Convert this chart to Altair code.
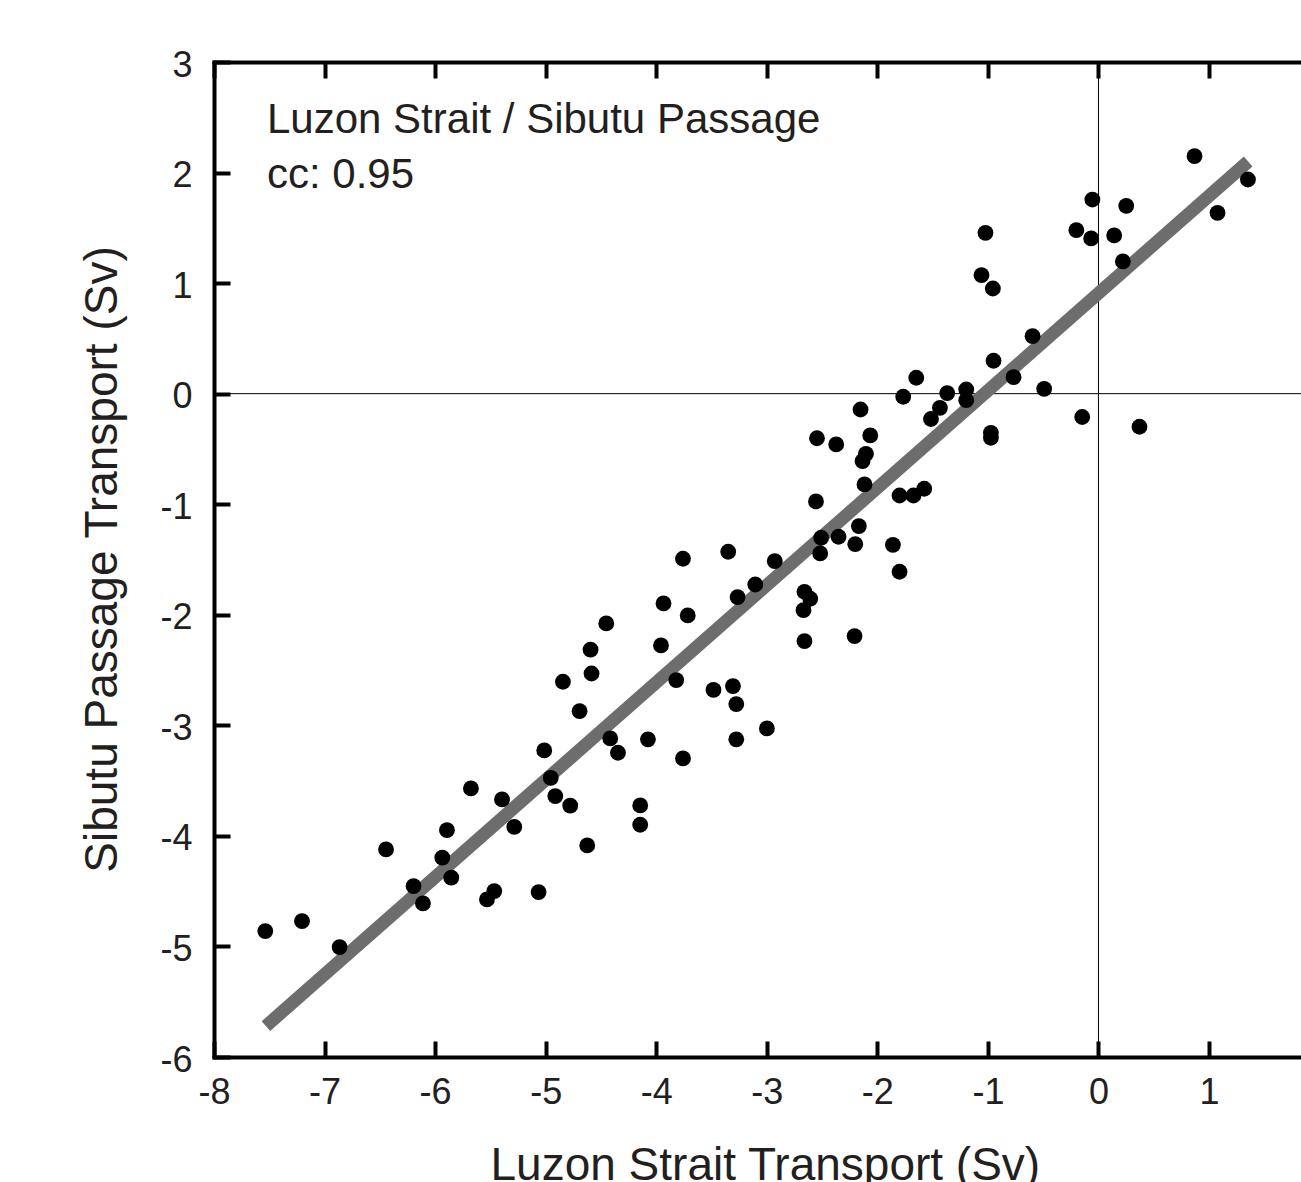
import altair as alt
import pandas as pd

# ---- data ----
luzon = [
    -7.536, -7.204, -6.864, -6.444, -6.195, -6.110, -5.893, -5.935, -5.854, -5.676,
    -5.531, -5.465, -5.395, -5.284, -5.064, -5.013, -4.954, -4.913, -4.844, -4.778,
    -4.693, -4.624, -4.585, -4.594, -4.452, -4.416, -4.346, -4.145, -4.145, -4.075,
    -3.957, -3.934, -3.819, -3.758, -3.758, -3.715, -3.482, -3.349, -3.306, -3.276,
    -3.276, -3.264, -3.104, -2.999, -2.928, -2.659, -2.659, -2.668, -2.607, -2.555,
    -2.546, -2.517, -2.508, -2.372, -2.351, -2.200, -2.206, -2.167, -2.152, -2.134,
    -2.103, -2.116, -2.064, -1.799, -1.799, -1.859, -1.766, -1.673, -1.648, -1.576,
    -1.515, -1.434, -1.368, -1.196, -1.196, -1.058, -1.022, -0.955, -0.973, -0.973,
    -0.949, -0.768, -0.596, -0.491, -0.200, -0.147, -0.066, -0.055, 0.142, 0.221,
    0.251, 0.371, 0.869, 1.077, 1.352,
]
sibutu = [
    -4.861, -4.771, -5.006, -4.122, -4.454, -4.611, -3.948, -4.197, -4.378, -3.571,
    -4.575, -4.499, -3.670, -3.919, -4.508, -3.227, -3.476, -3.640, -2.606, -3.727,
    -2.872, -4.086, -2.531, -2.316, -2.078, -3.118, -3.248, -3.724, -3.899, -3.127,
    -2.277, -1.897, -2.591, -3.299, -1.493, -2.006, -2.680, -1.430, -2.645, -2.808,
    -3.127, -1.840, -1.726, -3.028, -1.515, -2.238, -1.792, -1.958, -1.855, -0.975,
    -0.403, -1.445, -1.303, -0.459, -1.294, -1.361, -2.193, -1.198, -0.143, -0.610,
    -0.545, -0.821, -0.378, -1.611, -0.921, -1.367, -0.028, -0.921, 0.144, -0.860,
    -0.229, -0.128, 0.005, 0.038, -0.059, 1.072, 1.455, 0.951, -0.354, -0.399,
    0.298, 0.149, 0.520, 0.044, 1.479, -0.211, 1.404, 1.756, 1.431, 1.196,
    1.699, -0.299, 2.148, 1.636, 1.937,
]
fit_x = [-7.53, 1.354]
fit_y = [-5.72, 2.10]
zero_line = [0]
x_ticks = [-8, -7, -6, -5, -4, -3, -2, -1, 0, 1]
y_ticks = [-6, -5, -4, -3, -2, -1, 0, 1, 2, 3]
annotation = ["Luzon Strait / Sibutu Passage", "cc: 0.95"]
x_title = "Luzon Strait Transport (Sv)"
y_title = "Sibutu Passage Transport (Sv)"

pts = pd.DataFrame({"luzon": luzon, "sibutu": sibutu})
fit = pd.DataFrame({"luzon": fit_x, "sibutu": fit_y})
zeros = pd.DataFrame({"v": zero_line})
note = pd.DataFrame({"k": [0]})

FONT = "Liberation Sans"
INK = "#231f20"
W, H = 1087, 995
HYPHEN_LABEL = "'' + datum.value"

x_scale = alt.Scale(domain=[-8, 1.832], nice=False, zero=False)
y_scale = alt.Scale(domain=[-6, 3], nice=False, zero=False)
inward = alt.ExprRef(expr="-16")

x_main = alt.Axis(
    orient="bottom", values=x_ticks, grid=False,
    domain=True, domainColor="black", domainWidth=4, domainCap="square",
    ticks=True, tickSize=inward, tickWidth=4, tickColor="black",
    labels=True, labelFont=FONT, labelFontSize=36, labelColor=INK,
    labelPadding=34, labelFlush=False, labelOverlap=False, labelExpr=HYPHEN_LABEL,
    title=x_title, titleFont=FONT, titleFontSize=46, titleFontWeight="normal",
    titleColor=INK, titleAlign="left", titleBaseline="alphabetic",
    titleX=276, titleY=122,
)
x_top = alt.Axis(
    orient="top", values=x_ticks, grid=False,
    domain=True, domainColor="black", domainWidth=4, domainCap="square",
    ticks=True, tickSize=inward, tickWidth=4, tickColor="black",
    labels=False, title="",
)
y_main = alt.Axis(
    orient="left", values=y_ticks, grid=False,
    domain=True, domainColor="black", domainWidth=4, domainCap="square",
    ticks=True, tickSize=inward, tickWidth=4, tickColor="black",
    labels=True, labelFont=FONT, labelFontSize=36, labelColor=INK,
    labelPadding=38, labelOffset=3, labelFlush=False, labelOverlap=False,
    labelExpr=HYPHEN_LABEL,
    title=y_title, titleFont=FONT, titleFontSize=46, titleFontWeight="normal",
    titleColor=INK, titleAngle=270, titleAlign="center", titleBaseline="alphabetic",
    titleX=-98, titleY=497,
)

vline = alt.Chart(zeros).mark_rule(color="black", strokeWidth=1).encode(
    x=alt.X("v:Q", scale=x_scale, axis=None)
)
hline = alt.Chart(zeros).mark_rule(color="black", strokeWidth=1).encode(
    y=alt.Y("v:Q", scale=y_scale, axis=None)
)
line = alt.Chart(fit).mark_line(color="#6d6d6d", strokeWidth=13, strokeCap="butt").encode(
    x=alt.X("luzon:Q", scale=x_scale, axis=x_top),
    y=alt.Y("sibutu:Q", scale=y_scale, axis=None),
)
points = alt.Chart(pts).mark_circle(size=250, color="black", opacity=1).encode(
    x=alt.X("luzon:Q", scale=x_scale, axis=x_main),
    y=alt.Y("sibutu:Q", scale=y_scale, axis=y_main),
)
text = alt.Chart(note).mark_text(
    text=annotation, align="left", baseline="alphabetic", font=FONT,
    fontSize=42, lineHeight=55, color=INK,
).encode(x=alt.value(53), y=alt.value(71))

chart = (
    alt.layer(vline, hline, line, points, text)
    .resolve_axis(x="independent", y="independent")
    .properties(
        width=W, height=H,
        padding={"left": 214, "top": 62, "right": 0, "bottom": 125},
        autosize=alt.AutoSizeParams(type="none"),
        background="white",
    )
    .configure_view(stroke="transparent")
)

chart.save("out.html", embed_options={"renderer": "svg", "actions": False})
